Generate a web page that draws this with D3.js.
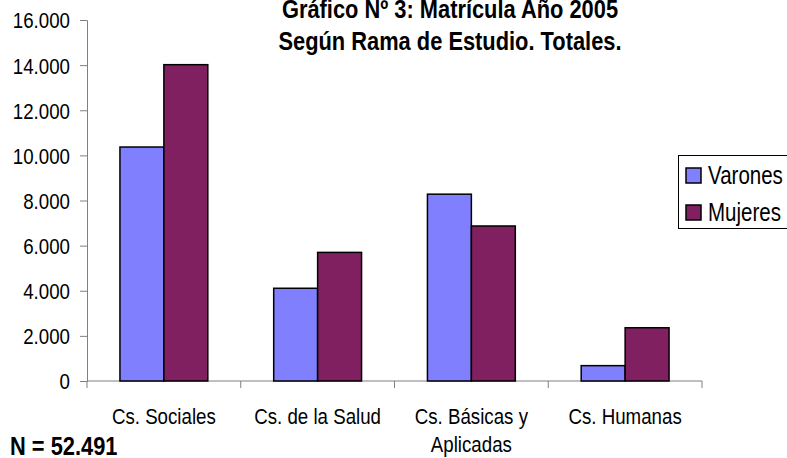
<!DOCTYPE html>
<html>
<head>
<meta charset="utf-8">
<script src="https://cdn.jsdelivr.net/npm/d3@7"></script>
<style>
  body { margin: 0; background: #fff; }
  svg text { font-family: "Liberation Sans", Arial, sans-serif; fill: #000; }
  .title { font-weight: bold; font-size: 26px; }
  .tick text { font-size: 22px; }
  .cat { font-size: 22px; }
  .legend text { font-size: 25px; }
  .note { font-weight: bold; font-size: 26px; }
</style>
</head>
<body>
<div id="chart"></div>
<script>
const categories = ['Cs. Sociales', 'Cs. de la Salud', 'Cs. Básicas y\nAplicadas', 'Cs. Humanas'];
const series = ['Varones', 'Mujeres'];
const varones = [10370, 4110, 8280, 680];
const mujeres = [14020, 5700, 6870, 2360];
const yTicks = [0, 2000, 4000, 6000, 8000, 10000, 12000, 14000, 16000];
const colors = ['#8080FF', '#802060'];
const titleLines = ['Gráfico Nº 3: Matrícula Año 2005', 'Según Rama de Estudio. Totales.'];
const note = 'N = 52.491';

const data = categories.map((c, i) => ({ cat: c, values: [varones[i], mujeres[i]] }));

const width = 787, height = 458;
const margin = { top: 20, right: 85, bottom: 77, left: 87 };

// squeeze text horizontally to mimic the narrow face of the original
function narrow(sel, k) {
  sel.each(function() {
    const len = this.getComputedTextLength();
    d3.select(this)
      .attr('textLength', len * k)
      .attr('lengthAdjust', 'spacingAndGlyphs');
  });
}

const svg = d3.select('#chart').append('svg')
  .attr('width', width)
  .attr('height', height);

const x = d3.scaleBand()
  .domain(categories)
  .range([margin.left, width - margin.right])
  .padding(0);

const xs = d3.scaleBand()
  .domain(series)
  .range([0, x.bandwidth()])
  .paddingInner(0)
  .paddingOuter(0.75);

const y = d3.scaleLinear()
  .domain([0, 16000])
  .range([height - margin.bottom, margin.top]);

const locale = d3.formatLocale({ decimal: ',', thousands: '.', grouping: [3], currency: ['', ''] });
const fmt = locale.format(',d');

// y axis
const yAxis = svg.append('g')
  .attr('transform', `translate(${margin.left},0)`)
  .call(d3.axisLeft(y).tickValues(yTicks).tickFormat(fmt).tickSize(7).tickPadding(10));
yAxis.selectAll('path, line').attr('stroke', '#808080').attr('stroke-width', 1);
yAxis.selectAll('text').attr('dy', '0.36em');
narrow(yAxis.selectAll('text'), 0.85);

// x axis
const xAxis = svg.append('g')
  .attr('transform', `translate(0,${y(0)})`);
xAxis.append('line')
  .attr('x1', x.range()[0]).attr('x2', x.range()[1])
  .attr('stroke', '#808080');
xAxis.selectAll('line.tk')
  .data(categories.concat([null]))
  .enter().append('line')
  .attr('class', 'tk')
  .attr('x1', (d, i) => i < categories.length ? x(d) : x.range()[1])
  .attr('x2', (d, i) => i < categories.length ? x(d) : x.range()[1])
  .attr('y1', 0).attr('y2', 7)
  .attr('stroke', '#808080');

// category labels
const cat = svg.append('g').selectAll('text')
  .data(categories)
  .enter().append('text')
  .attr('class', 'cat')
  .attr('text-anchor', 'middle')
  .attr('x', d => x(d) + x.bandwidth() / 2)
  .attr('y', y(0) + 43);
cat.each(function(d) {
  const t = d3.select(this);
  d.split('\n').forEach((l, i) => {
    t.append('tspan')
      .attr('x', x(d) + x.bandwidth() / 2)
      .attr('dy', i === 0 ? 0 : 28)
      .text(l);
  });
});
narrow(cat.selectAll('tspan'), 0.85);

// bars
const groups = svg.append('g').selectAll('g')
  .data(data)
  .enter().append('g')
  .attr('transform', d => `translate(${x(d.cat)},0)`);

groups.selectAll('rect')
  .data(d => d.values.map((v, i) => ({ key: series[i], value: v, i })))
  .enter().append('rect')
  .attr('x', d => xs(d.key))
  .attr('y', d => y(d.value))
  .attr('width', xs.bandwidth())
  .attr('height', d => y(0) - y(d.value))
  .attr('fill', d => colors[d.i])
  .attr('stroke', '#000')
  .attr('stroke-width', 1.5);

// title
const title = svg.append('text')
  .attr('class', 'title')
  .attr('text-anchor', 'middle')
  .selectAll('tspan')
  .data(titleLines)
  .enter().append('tspan')
  .attr('x', 450)
  .attr('y', (d, i) => 18 + i * 32)
  .text(d => d);
narrow(title, 0.84);

// legend
const legend = svg.append('g').attr('class', 'legend');
legend.append('rect')
  .attr('x', 678.5).attr('y', 155.5)
  .attr('width', 120).attr('height', 73)
  .attr('fill', '#fff')
  .attr('stroke', '#000')
  .attr('stroke-width', 1);
const li = legend.selectAll('g')
  .data(series)
  .enter().append('g')
  .attr('transform', (d, i) => `translate(686,${168 + i * 37})`);
li.append('rect')
  .attr('width', 15).attr('height', 15)
  .attr('fill', (d, i) => colors[i])
  .attr('stroke', '#000')
  .attr('stroke-width', 1.5);
const lt = li.append('text')
  .attr('x', 22)
  .attr('y', 16)
  .text(d => d);
narrow(lt, 0.82);

// N note
const n = svg.append('text')
  .attr('class', 'note')
  .attr('x', 10)
  .attr('y', 455)
  .text(note);
narrow(n, 0.84);
</script>
</body>
</html>
